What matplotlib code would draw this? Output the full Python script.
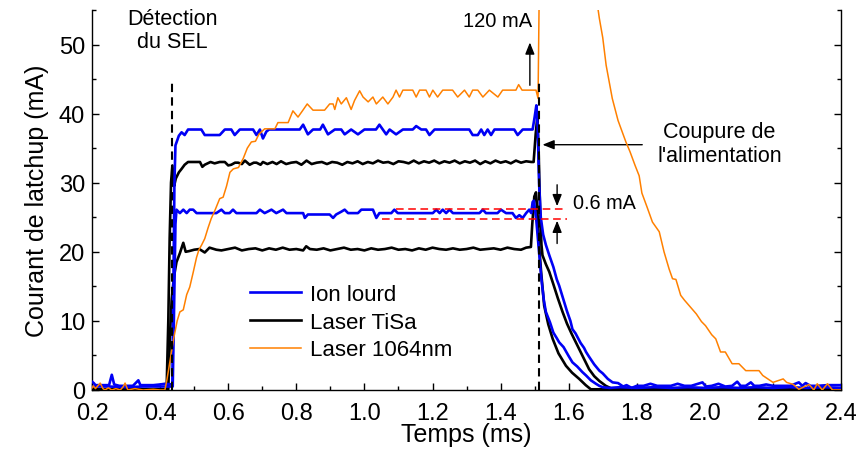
import matplotlib
matplotlib.use("Agg")
import matplotlib.pyplot as plt
from matplotlib.ticker import MultipleLocator

plt.rcParams['font.family'] = ['Liberation Sans', 'DejaVu Sans']

# -------------------------------
# Données (temps en ms, courant en mA)
# -------------------------------

# Ion lourd - palier haut
t_ion_haut = [0.200, 0.205, 0.210, 0.220, 0.230, 0.240, 0.250, 0.258, 0.265, 0.280, 0.300, 0.320,
              0.336, 0.342, 0.360, 0.380, 0.400, 0.414, 0.436, 0.439, 0.442, 0.445, 0.455, 0.463,
              0.472, 0.482, 0.521, 0.531, 0.575, 0.590, 0.609, 0.619, 0.634, 0.673, 0.683, 0.693,
              0.702, 0.712, 0.720, 0.810, 0.820, 0.834, 0.849, 0.870, 0.878, 0.893, 0.913, 0.932,
              0.942, 0.961, 0.981, 1.000, 1.034, 1.044, 1.064, 1.074, 1.093, 1.113, 1.142, 1.152,
              1.167, 1.181, 1.191, 1.206, 1.308, 1.318, 1.333, 1.343, 1.352, 1.362, 1.372, 1.382,
              1.440, 1.450, 1.465, 1.494, 1.500, 1.505, 1.509, 1.513, 1.518, 1.525, 1.533, 1.543,
              1.555, 1.565, 1.572, 1.585, 1.595, 1.605, 1.611, 1.620, 1.635, 1.645, 1.651, 1.660,
              1.675, 1.690, 1.700, 1.715, 1.729, 1.745, 1.760, 1.770, 1.785, 1.800, 1.820, 1.840,
              1.860, 1.880, 1.900, 1.920, 1.940, 1.960, 1.993, 2.003, 2.020, 2.040, 2.060, 2.080,
              2.095, 2.105, 2.120, 2.135, 2.145, 2.160, 2.180, 2.200, 2.220, 2.250, 2.276, 2.286,
              2.296, 2.310, 2.330, 2.360, 2.400]
v_ion_haut = [1.2, 1.0, 0.7, 0.7, 0.7, 0.7, 0.7, 2.2, 0.8, 0.6, 0.6, 0.6,
              1.4, 0.7, 0.7, 0.7, 0.8, 0.9, 0.8, 15.0, 30.0, 35.4, 36.8, 37.3,
              36.9, 37.7, 37.7, 36.9, 36.9, 37.7, 37.7, 36.9, 37.7, 37.7, 36.9, 37.7,
              36.4, 37.4, 37.7, 37.7, 38.4, 37.0, 37.7, 37.7, 38.4, 37.0, 37.7, 37.7,
              37.0, 37.7, 37.0, 37.7, 37.7, 38.4, 37.0, 37.7, 37.0, 37.7, 37.7, 38.2,
              37.7, 37.7, 36.9, 37.7, 37.7, 36.9, 36.9, 37.7, 36.9, 37.7, 36.9, 37.7,
              37.7, 36.9, 37.7, 37.7, 39.5, 41.2, 38.0, 30.0, 25.0, 22.5, 21.0, 19.5,
              17.8, 16.0, 15.1, 13.0, 11.4, 10.0, 8.8, 8.2, 6.8, 6.1, 5.5, 4.8,
              3.7, 2.8, 2.4, 1.6, 1.1, 1.0, 0.5, 0.7, 0.3, 0.6, 0.6, 0.9,
              0.6, 0.6, 0.6, 0.9, 0.6, 0.6, 1.1, 0.5, 0.6, 0.9, 0.5, 0.6,
              1.2, 0.6, 0.6, 1.1, 0.6, 0.6, 0.8, 0.6, 0.6, 0.6, 1.1, 0.6,
              1.0, 0.6, 0.6, 0.7, 0.7]

# Ion lourd - palier bas
t_ion_bas = [0.200, 0.250, 0.300, 0.350, 0.400, 0.437, 0.441, 0.445, 0.448, 0.458, 0.468, 0.478,
             0.487, 0.497, 0.507, 0.565, 0.580, 0.590, 0.604, 0.614, 0.624, 0.683, 0.693, 0.707,
             0.727, 0.741, 0.761, 0.771, 0.820, 0.825, 0.834, 0.898, 0.908, 0.917, 0.932, 0.942,
             0.952, 0.981, 0.991, 1.025, 1.035, 1.044, 1.079, 1.088, 1.098, 1.201, 1.211, 1.221,
             1.230, 1.240, 1.250, 1.260, 1.338, 1.348, 1.357, 1.391, 1.401, 1.416, 1.435, 1.445,
             1.455, 1.465, 1.475, 1.484, 1.490, 1.494, 1.498, 1.505, 1.512, 1.520, 1.527, 1.533,
             1.545, 1.555, 1.565, 1.572, 1.585, 1.600, 1.611, 1.625, 1.640, 1.651, 1.665, 1.680,
             1.690, 1.700, 1.720, 1.750, 1.800, 1.850, 1.900, 1.950, 2.000, 2.050, 2.100, 2.150,
             2.200, 2.250, 2.300, 2.350, 2.400]
v_ion_bas = [0.5, 0.5, 0.4, 0.5, 0.5, 0.5, 12.0, 24.0, 26.1, 25.6, 26.1, 25.6,
             26.1, 26.1, 25.6, 25.6, 26.1, 25.6, 25.6, 26.1, 25.6, 25.6, 26.1, 25.6,
             26.1, 25.6, 26.1, 25.6, 25.6, 24.9, 25.4, 25.4, 24.9, 25.4, 25.8, 26.1,
             25.6, 25.6, 26.1, 26.1, 24.9, 25.6, 25.6, 26.1, 25.6, 25.6, 26.1, 25.6,
             26.1, 25.6, 26.1, 25.6, 25.6, 26.1, 25.6, 25.6, 26.1, 25.6, 25.6, 24.9,
             25.3, 24.9, 25.6, 26.1, 25.6, 27.2, 27.4, 24.5, 20.5, 16.0, 13.0, 11.3,
             9.8, 8.3, 7.5, 6.9, 6.2, 4.9, 4.0, 3.4, 2.6, 2.1, 1.4, 0.9,
             0.6, 0.4, 0.3, 0.4, 0.3, 0.4, 0.3, 0.4, 0.3, 0.4, 0.3, 0.4,
             0.3, 0.4, 0.3, 0.4, 0.3]

# Laser TiSa - palier haut
t_tisa_haut = [0.200, 0.300, 0.400, 0.419, 0.424, 0.428, 0.432, 0.436, 0.441, 0.446, 0.455, 0.463,
               0.472, 0.482, 0.500, 0.517, 0.524, 0.531, 0.548, 0.560, 0.575, 0.590, 0.600, 0.609,
               0.620, 0.629, 0.640, 0.649, 0.663, 0.675, 0.683, 0.695, 0.702, 0.715, 0.730, 0.742,
               0.755, 0.770, 0.785, 0.800, 0.815, 0.830, 0.845, 0.860, 0.875, 0.890, 0.905, 0.920,
               0.935, 0.950, 0.965, 0.980, 0.995, 1.010, 1.025, 1.040, 1.055, 1.070, 1.085, 1.100,
               1.115, 1.130, 1.145, 1.160, 1.175, 1.190, 1.205, 1.220, 1.235, 1.250, 1.265, 1.280,
               1.295, 1.310, 1.325, 1.340, 1.355, 1.370, 1.385, 1.400, 1.415, 1.430, 1.445, 1.460,
               1.475, 1.490, 1.497, 1.503, 1.508, 1.512, 1.516, 1.520, 1.523, 1.533, 1.543, 1.555,
               1.568, 1.582, 1.595, 1.608, 1.621, 1.635, 1.648, 1.660, 1.675, 1.690, 1.709, 1.730,
               2.000, 2.400]
v_tisa_haut = [0.1, 0.1, 0.1, 0.1, 10.0, 22.0, 30.0, 32.5, 29.5, 30.6, 31.5, 32.0,
               32.6, 33.0, 33.0, 33.0, 32.3, 32.6, 33.0, 32.8, 33.0, 33.0, 32.5, 32.6,
               32.9, 32.9, 32.7, 33.2, 32.6, 32.9, 32.9, 32.6, 33.0, 32.7, 33.0, 32.7,
               33.1, 32.7, 32.9, 33.0, 32.6, 33.2, 32.7, 32.9, 33.0, 32.7, 33.0, 32.9,
               32.6, 33.0, 32.8, 33.1, 32.7, 33.0, 32.8, 33.2, 32.9, 33.0, 32.7, 33.1,
               33.0, 32.8, 33.2, 32.8, 33.1, 32.9, 33.2, 32.8, 33.1, 32.9, 33.2, 32.8,
               33.1, 32.9, 33.2, 32.7, 33.1, 32.8, 33.2, 32.9, 33.1, 32.8, 33.2, 32.9,
               33.1, 33.0, 33.0, 37.0, 39.6, 34.0, 26.0, 21.0, 19.5, 18.2, 17.1, 15.3,
               13.3, 11.3, 9.6, 8.2, 6.9, 5.5, 4.2, 3.0, 2.0, 1.3, 0.6, 0.1,
               0.1, 0.1]

# Laser TiSa - palier bas
t_tisa_bas = [0.200, 0.300, 0.400, 0.424, 0.429, 0.434, 0.441, 0.448, 0.458, 0.468, 0.475, 0.485,
              0.500, 0.515, 0.531, 0.545, 0.565, 0.580, 0.600, 0.620, 0.640, 0.660, 0.680, 0.700,
              0.720, 0.740, 0.760, 0.780, 0.800, 0.820, 0.829, 0.840, 0.860, 0.880, 0.900, 0.920,
              0.940, 0.960, 0.980, 1.000, 1.020, 1.040, 1.060, 1.080, 1.100, 1.120, 1.140, 1.160,
              1.180, 1.200, 1.220, 1.240, 1.260, 1.280, 1.300, 1.320, 1.340, 1.360, 1.380, 1.400,
              1.420, 1.440, 1.460, 1.475, 1.489, 1.493, 1.499, 1.504, 1.508, 1.513, 1.519, 1.528,
              1.540, 1.553, 1.570, 1.592, 1.610, 1.631, 1.650, 1.665, 2.000, 2.400]
v_tisa_bas = [0.1, 0.1, 0.1, 0.1, 8.0, 13.2, 16.5, 18.5, 19.8, 21.3, 20.0, 20.1,
              20.3, 20.4, 19.9, 20.6, 20.3, 20.2, 20.4, 20.6, 20.2, 20.4, 20.5, 20.2,
              20.5, 20.3, 20.6, 20.3, 20.4, 20.2, 20.8, 20.4, 20.3, 20.5, 20.2, 20.4,
              20.6, 20.3, 20.4, 20.2, 20.5, 20.3, 20.4, 20.6, 20.3, 20.4, 20.2, 20.5,
              20.3, 20.6, 20.4, 20.3, 20.5, 20.3, 20.4, 20.6, 20.3, 20.4, 20.5, 20.3,
              20.6, 20.4, 20.3, 20.6, 20.7, 24.0, 28.0, 28.6, 26.0, 21.0, 17.1, 12.2,
              9.5, 7.4, 5.3, 3.5, 2.5, 1.6, 0.7, 0.1, 0.1, 0.1]

# Laser 1064nm
t_1064 = [0.200, 0.204, 0.210, 0.224, 0.232, 0.238, 0.248, 0.258, 0.270, 0.283, 0.292, 0.297,
          0.305, 0.326, 0.350, 0.380, 0.400, 0.414, 0.420, 0.430, 0.440, 0.450, 0.458, 0.468,
          0.478, 0.487, 0.497, 0.507, 0.514, 0.522, 0.531, 0.541, 0.550, 0.561, 0.575, 0.585,
          0.595, 0.605, 0.615, 0.630, 0.644, 0.656, 0.668, 0.680, 0.690, 0.707, 0.720, 0.737,
          0.746, 0.766, 0.776, 0.790, 0.805, 0.818, 0.832, 0.849, 0.870, 0.883, 0.898, 0.908,
          0.913, 0.922, 0.932, 0.947, 0.961, 0.971, 0.986, 0.996, 1.011, 1.025, 1.035, 1.054,
          1.069, 1.084, 1.093, 1.103, 1.113, 1.142, 1.152, 1.162, 1.181, 1.191, 1.201, 1.215,
          1.230, 1.259, 1.274, 1.294, 1.308, 1.318, 1.333, 1.348, 1.367, 1.392, 1.406, 1.445,
          1.453, 1.463, 1.504, 1.510, 1.514, 1.516, 1.640, 1.672, 1.690, 1.700, 1.710, 1.728,
          1.745, 1.768, 1.780, 1.795, 1.807, 1.815, 1.830, 1.846, 1.866, 1.880, 1.895, 1.905,
          1.915, 1.929, 1.940, 1.963, 1.975, 1.990, 2.002, 2.020, 2.032, 2.046, 2.060, 2.080,
          2.100, 2.120, 2.159, 2.170, 2.200, 2.230, 2.240, 2.260, 2.276, 2.306, 2.320, 2.330,
          2.345, 2.360, 2.375, 2.400]
v_1064 = [0.3, 0.6, 0.2, 1.0, 0.2, 0.0, 0.3, 0.0, 0.2, 0.0, 0.5, 1.0,
          0.0, 0.2, 0.0, 0.1, 0.0, 0.0, 1.5, 4.5, 7.5, 10.0, 11.3, 11.6,
          13.8, 14.9, 17.0, 19.2, 20.3, 21.0, 21.9, 23.5, 24.8, 26.0, 27.7, 27.9,
          29.5, 31.5, 32.0, 32.2, 33.5, 35.0, 35.9, 36.0, 37.0, 37.8, 37.8, 37.8,
          38.7, 38.7, 38.7, 40.4, 39.5, 40.4, 41.4, 40.5, 40.5, 40.5, 41.4, 41.4,
          40.6, 42.3, 41.4, 42.3, 40.6, 41.9, 43.3, 42.4, 41.7, 42.4, 41.4, 42.4,
          41.4, 42.4, 43.4, 42.4, 43.4, 43.4, 42.4, 43.4, 43.4, 42.4, 43.4, 42.4,
          43.4, 43.4, 42.4, 43.4, 42.4, 43.4, 43.4, 42.4, 43.4, 42.4, 43.4, 43.4,
          44.2, 43.4, 43.4, 42.2, 60.0, 120.0, 120.0, 60.0, 53.8, 51.0, 47.0, 42.2,
          39.0, 35.9, 34.5, 32.5, 31.0, 28.5, 26.5, 24.3, 22.9, 20.0, 17.5, 16.1,
          16.0, 13.7, 13.0, 11.7, 11.0, 9.9, 9.3, 8.0, 7.4, 5.5, 5.5, 3.8,
          3.8, 2.8, 2.8, 2.1, 1.1, 1.6, 1.1, 0.8, 0.1, 0.8, 0.0, 0.9,
          0.0, 0.9, 0.0, 0.0]

bleu = '#0000F5'
orange = '#FF8000'

fig = plt.figure(figsize=(8.57, 4.52), dpi=100)
ax = fig.add_axes([0.1074, 0.135, 0.874, 0.8407])

ax.plot(t_tisa_haut, v_tisa_haut, color='k', lw=1.9, label='Laser TiSa', zorder=3)
ax.plot(t_tisa_bas, v_tisa_bas, color='k', lw=1.9, zorder=3)
ax.plot(t_ion_haut, v_ion_haut, color=bleu, lw=1.9, label='Ion lourd', zorder=4)
ax.plot(t_ion_bas, v_ion_bas, color=bleu, lw=1.9, zorder=4)
ax.plot(t_1064, v_1064, color=orange, lw=1.1, label='Laser 1064nm', zorder=5)

# lignes verticales pointillées
ax.plot([0.436, 0.436], [0, 45], color='k', lw=1.5, ls=(0, (4, 2.5)), zorder=6)
ax.plot([1.514, 1.514], [0, 45], color='k', lw=1.5, ls=(0, (4, 2.5)), zorder=6)

# lignes rouges (0.6 mA)
ax.plot([1.094, 1.595], [26.2, 26.2], color='#FF0000', lw=1.1, ls=(0, (5, 3)), zorder=7)
ax.plot([1.053, 1.595], [24.8, 24.8], color='#FF0000', lw=1.1, ls=(0, (5, 3)), zorder=7)

fl = dict(arrowstyle='-|>,head_length=0.5,head_width=0.2', color='k', lw=1.0,
          mutation_scale=14, shrinkA=0, shrinkB=0)
ax.annotate('', xy=(1.486, 50.3), xytext=(1.486, 44.1), arrowprops=fl)
ax.annotate('', xy=(1.523, 35.5), xytext=(1.816, 35.5), arrowprops=fl)
ax.annotate('', xy=(1.566, 26.6), xytext=(1.566, 29.7), arrowprops=fl)
ax.annotate('', xy=(1.566, 24.5), xytext=(1.566, 21.2), arrowprops=fl)

ax.text(0.436, 52.1, 'Détection\ndu SEL', ha='center', va='center', fontsize=15.5,
        linespacing=1.15)
ax.text(1.494, 53.5, '120 mA', ha='right', va='center', fontsize=14.5)
ax.text(2.043, 35.7, "Coupure de\nl'alimentation", ha='center', va='center', fontsize=15.5,
        linespacing=1.15)
ax.text(1.612, 27.1, '0.6 mA', ha='left', va='center', fontsize=14.3)

ax.set_xlim(0.2, 2.4)
ax.set_ylim(0, 55)
ax.xaxis.set_major_locator(MultipleLocator(0.2))
ax.xaxis.set_minor_locator(MultipleLocator(0.1))
ax.yaxis.set_major_locator(MultipleLocator(10))
ax.yaxis.set_minor_locator(MultipleLocator(5))
ax.xaxis.set_major_formatter(plt.FuncFormatter(lambda x, p: f'{x:.1f}'))
ax.spines['top'].set_visible(False)
for s in ['left', 'right', 'bottom']:
    ax.spines[s].set_linewidth(1.0)
ax.tick_params(which='both', direction='in', right=True, top=False, labelsize=17, width=1.0)
ax.tick_params(which='major', length=5)
ax.tick_params(which='minor', length=3)
ax.tick_params(axis='x', which='major', pad=8.5)
ax.tick_params(axis='y', which='major', pad=5)

ax.set_xlabel('Temps (ms)', fontsize=18, labelpad=-1)
ax.set_ylabel('Courant de latchup (mA)', fontsize=18, labelpad=7)

h, l = ax.get_legend_handles_labels()
ordre = [1, 0, 2]
ax.legend([h[i] for i in ordre], [l[i] for i in ordre], loc='upper left',
          bbox_to_anchor=(0.211, 0.279), frameon=False, fontsize=16, borderpad=0,
          handlelength=2.3, handletextpad=0.4, labelspacing=0.3, borderaxespad=0)

fig.savefig('out.png', dpi=100)
